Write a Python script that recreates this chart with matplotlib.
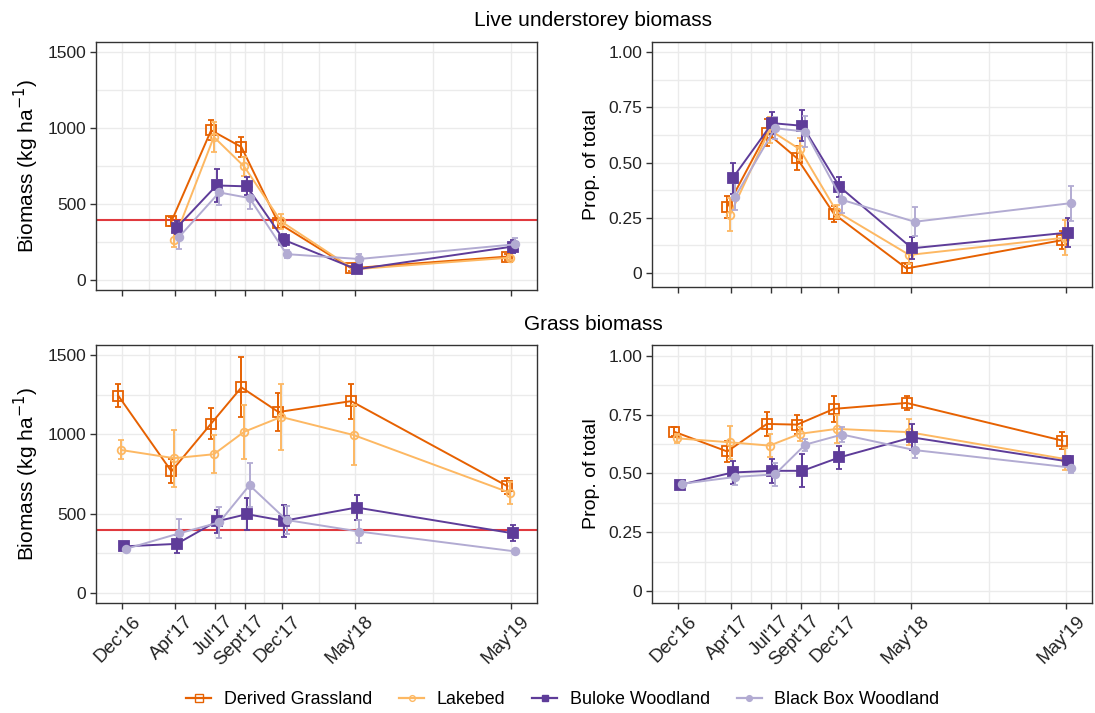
import numpy as np
import matplotlib.transforms as mtransforms
from matplotlib import pyplot as plt
from matplotlib.ticker import FixedLocator

plt.rcParams.update({
    "font.family": ["Liberation Sans", "DejaVu Sans"],
    "axes.edgecolor": "#333333",
    "axes.linewidth": 1.0,
    "xtick.color": "#333333",
    "ytick.color": "#333333",
    "xtick.labelcolor": "#222222",
    "ytick.labelcolor": "#222222",
})

# sampling times (months since Dec 2016) and their labels
months = [0, 3.95, 6.9, 9.15, 11.9, 17.3, 28.9]
month_labels = ["Dec'16", "Apr'17", "Jul'17", "Sept'17", "Dec'17", "May'18", "May'19"]

series = ["Derived Grassland", "Lakebed", "Buloke Woodland", "Black Box Woodland"]

# live understorey biomass (kg/ha), from Apr'17 onwards
live_dg = [385, 985, 875, 374, 77, 154]
live_dg_err = [30, 65, 65, 30, 15, 20]
live_lb = [264, 941, 747, 385, 70, 147]
live_lb_err = [50, 100, 65, 50, 15, 15]
live_bw = [345, 622, 616, 264, 70, 220]
live_bw_err = [40, 110, 60, 40, 15, 45]
live_bb = [286, 576, 539, 170, 138, 235]
live_bb_err = [80, 85, 70, 25, 35, 40]

# live understorey proportion of total
live_p_dg = [0.300, 0.635, 0.519, 0.267, 0.021, 0.149]
live_p_dg_err = [0.05, 0.06, 0.055, 0.035, 0.02, 0.04]
live_p_lb = [0.263, 0.648, 0.560, 0.278, 0.082, 0.160]
live_p_lb_err = [0.075, 0.06, 0.05, 0.03, 0.04, 0.08]
live_p_bw = [0.429, 0.678, 0.666, 0.391, 0.112, 0.183]
live_p_bw_err = [0.07, 0.05, 0.07, 0.045, 0.05, 0.065]
live_p_bb = [0.346, 0.655, 0.640, 0.331, 0.232, 0.316]
live_p_bb_err = [0.06, 0.05, 0.07, 0.06, 0.065, 0.08]

# grass biomass (kg/ha), all dates
grass_dg = [1246, 767, 1069, 1298, 1142, 1211, 673]
grass_dg_err = [75, 75, 100, 190, 120, 110, 50]
grass_lb = [902, 850, 875, 1017, 1111, 996, 631]
grass_lb_err = [60, 180, 120, 170, 210, 190, 70]
grass_bw = [292, 308, 450, 496, 454, 538, 375]
grass_bw_err = [15, 55, 75, 100, 100, 80, 50]
grass_bb = [277, 375, 444, 679, 459, 386, 260]
grass_bb_err = [15, 90, 100, 140, 90, 70, 15]

# grass proportion of total
grass_p_dg = [0.677, 0.593, 0.710, 0.707, 0.774, 0.799, 0.639]
grass_p_dg_err = [0.02, 0.045, 0.05, 0.04, 0.055, 0.03, 0.035]
grass_p_lb = [0.649, 0.632, 0.618, 0.668, 0.689, 0.675, 0.561]
grass_p_lb_err = [0.02, 0.07, 0.05, 0.03, 0.06, 0.055, 0.045]
grass_p_bw = [0.451, 0.504, 0.511, 0.511, 0.568, 0.653, 0.551]
grass_p_bw_err = [0.01, 0.05, 0.05, 0.07, 0.05, 0.055, 0.025]
grass_p_bb = [0.456, 0.485, 0.496, 0.622, 0.665, 0.599, 0.525]
grass_p_bb_err = [0.01, 0.035, 0.05, 0.025, 0.03, 0.035, 0.025]

threshold = 393

COLORS = ["#E66101", "#FDB863", "#5E3C99", "#B2ABD2"]
MARKERS = ["s", "o", "s", "o"]
FILLED = [False, False, True, True]
MSIZES = [7, 5.5, 6.5, 5.5]
DODGE = [-0.3, -0.1, 0.1, 0.3]


def draw(ax, xs, values, errs):
    for i, (v, e) in enumerate(zip(values, errs)):
        x = np.array(xs) + DODGE[i]
        ax.errorbar(x, v, yerr=e, color=COLORS[i], marker=MARKERS[i],
                    markersize=MSIZES[i],
                    markerfacecolor=COLORS[i] if FILLED[i] else "none",
                    markeredgecolor=COLORS[i], markeredgewidth=1.3,
                    linewidth=1.4, elinewidth=1.4, capsize=2, zorder=3 + i * 0.1)


def style(ax, show_labels):
    ax.set_xlim(-1.95, 30.8)
    ax.xaxis.set_major_locator(FixedLocator(months))
    mids = [(a + b) / 2 for a, b in zip(months[:-1], months[1:])]
    ax.xaxis.set_minor_locator(FixedLocator(mids))
    ax.grid(True, which="both", color="#EBEBEB", linewidth=1.0, zorder=0)
    ax.set_axisbelow(True)
    ax.tick_params(axis="x", which="minor", length=0)
    ax.tick_params(axis="both", which="major", length=4, width=1, pad=3, labelsize=12.5)
    if show_labels:
        ax.set_xticklabels(month_labels, rotation=45, ha="right", va="top",
                           rotation_mode="anchor", fontsize=13.5)
        shift = mtransforms.ScaledTranslation(7 / 72, 0, fig.dpi_scale_trans)
        for lab in ax.get_xticklabels():
            lab.set_transform(lab.get_transform() + shift)
    else:
        ax.set_xticklabels([])


def biomass_axis(ax):
    ax.set_ylim(-66, 1566)
    ax.yaxis.set_major_locator(FixedLocator([0, 500, 1000, 1500]))
    ax.yaxis.set_minor_locator(FixedLocator([250, 750, 1250]))
    ax.tick_params(axis="y", which="minor", length=0)
    ax.set_yticklabels(["0", "500", "1000", "1500"])
    ax.set_ylabel("Biomass (kg ha$^{-1}$)", fontsize=15, labelpad=5)
    ax.axhline(threshold, color="#E0393E", linewidth=1.5, zorder=2)


def prop_axis(ax, ymin, ymax):
    ax.set_ylim(ymin, ymax)
    ax.yaxis.set_major_locator(FixedLocator([0, 0.25, 0.5, 0.75, 1.0]))
    ax.yaxis.set_minor_locator(FixedLocator([0.125, 0.375, 0.625, 0.875]))
    ax.tick_params(axis="y", which="minor", length=0)
    ax.set_yticklabels(["0", "0.25", "0.50", "0.75", "1.00"])
    ax.set_ylabel("Prop. of total", fontsize=14, labelpad=6)


fig = plt.figure(figsize=(10.95, 7.13), dpi=100)
W, H = 1095, 713


def make_axes(left, top, right, bottom):
    return fig.add_axes([left / W, (H - bottom) / H, (right - left) / W, (bottom - top) / H])


a_tl = make_axes(96, 42, 537, 290)
a_tr = make_axes(652, 42, 1092, 287)
a_bl = make_axes(96, 345, 537, 603)
a_br = make_axes(652, 345, 1092, 603)

live_x = months[1:]
draw(a_tl, live_x, [live_dg, live_lb, live_bw, live_bb],
     [live_dg_err, live_lb_err, live_bw_err, live_bb_err])
draw(a_tr, live_x, [live_p_dg, live_p_lb, live_p_bw, live_p_bb],
     [live_p_dg_err, live_p_lb_err, live_p_bw_err, live_p_bb_err])
draw(a_bl, months, [grass_dg, grass_lb, grass_bw, grass_bb],
     [grass_dg_err, grass_lb_err, grass_bw_err, grass_bb_err])
draw(a_br, months, [grass_p_dg, grass_p_lb, grass_p_bw, grass_p_bb],
     [grass_p_dg_err, grass_p_lb_err, grass_p_bw_err, grass_p_bb_err])

style(a_tl, False)
style(a_tr, False)
style(a_bl, True)
style(a_br, True)
biomass_axis(a_tl)
biomass_axis(a_bl)
prop_axis(a_tr, -0.063, 1.045)
prop_axis(a_br, -0.05, 1.045)

fig.text(593 / W, 1 - 20 / H, "Live understorey biomass", ha="center", va="center", fontsize=15)
fig.text(593 / W, 1 - 325 / H, "Grass biomass", ha="center", va="center", fontsize=15)

handles = []
for i, name in enumerate(series):
    h, = fig.axes[0].plot([], [], color=COLORS[i], marker=MARKERS[i], markersize=MSIZES[i] * 0.75,
                          markerfacecolor=COLORS[i] if FILLED[i] else "none",
                          markeredgecolor=COLORS[i], linewidth=1.6, label=name)
    handles.append(h)
fig.legend(handles=handles, loc="center", bbox_to_anchor=(563 / W, 1 - 700 / H), ncol=4,
           frameon=False, fontsize=12.9, handlelength=1.4, columnspacing=1.5,
           handletextpad=0.7)

fig.savefig("out.png", dpi=100)
